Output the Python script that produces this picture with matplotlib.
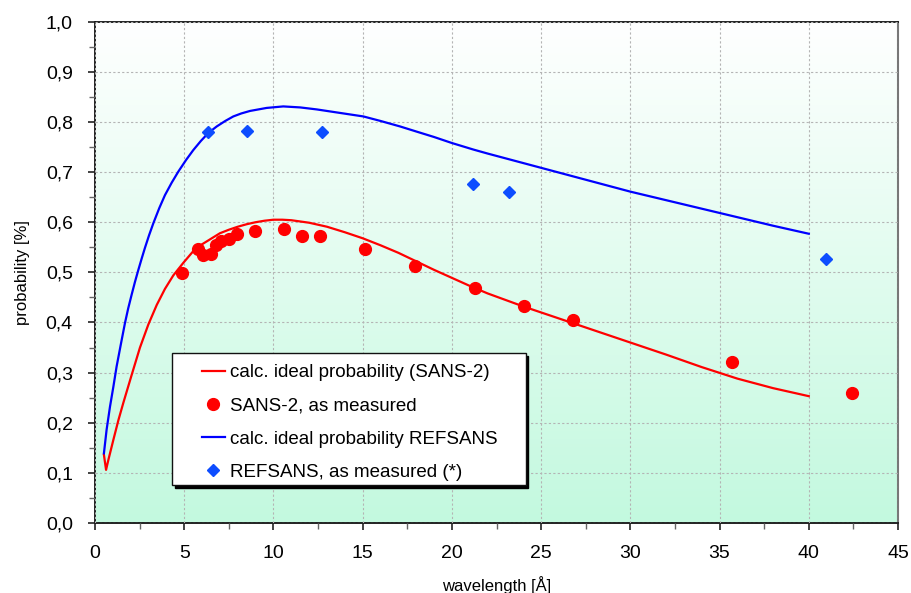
import numpy as np
import matplotlib
matplotlib.use('Agg')
from matplotlib import pyplot as plt
from matplotlib.colors import LinearSegmentedColormap
from matplotlib.patches import Rectangle
from matplotlib.ticker import MultipleLocator

plt.rcParams['font.family'] = ['Liberation Sans', 'DejaVu Sans']

# calculated curves
sans_calc_x = [0.5, 0.62, 0.75, 1.03, 1.31, 1.59, 2.06, 2.52, 2.99, 3.46, 3.92, 4.39, 4.95,
               5.5, 6.0, 6.5, 7.0, 7.5, 8.0, 8.5, 9.0, 9.5, 10.0, 10.5, 11.0, 12.0, 13.0,
               14.0, 15.0, 16.0, 17.0, 18.0, 19.0, 20.0, 21.0, 22.0, 24.0, 26.0, 28.0,
               30.0, 32.0, 34.0, 36.0, 38.0, 40.0]
sans_calc_y = [0.136, 0.106, 0.126, 0.166, 0.205, 0.240, 0.296, 0.350, 0.396, 0.435, 0.467,
               0.494, 0.519, 0.542, 0.556, 0.567, 0.578, 0.585, 0.591, 0.596, 0.600, 0.603,
               0.605, 0.605, 0.604, 0.599, 0.591, 0.580, 0.568, 0.554, 0.539, 0.522, 0.505,
               0.489, 0.473, 0.458, 0.432, 0.408, 0.384, 0.360, 0.336, 0.311, 0.288, 0.269,
               0.253]

refsans_calc_x = [0.5, 0.65, 0.84, 1.03, 1.21, 1.44, 1.68, 1.86, 2.05, 2.24, 2.43, 2.62,
                  2.80, 3.03, 3.27, 3.6, 3.92, 4.3, 4.67, 5.1, 5.51, 5.93, 6.35, 6.82, 7.3,
                  7.75, 8.2, 8.69, 9.62, 10.55, 11.5, 12.43, 13.36, 15.04, 16.0, 17.1, 18.0,
                  19.0, 20.0, 21.2, 22.0, 24.0, 26.0, 28.0, 30.0, 32.0, 34.0, 36.0, 38.0,
                  40.0]
refsans_calc_y = [0.139, 0.186, 0.232, 0.272, 0.312, 0.355, 0.399, 0.428, 0.455, 0.481,
                  0.505, 0.528, 0.549, 0.574, 0.598, 0.628, 0.654, 0.679, 0.701, 0.724,
                  0.744, 0.762, 0.778, 0.791, 0.802, 0.811, 0.817, 0.822, 0.828, 0.831,
                  0.829, 0.825, 0.820, 0.811, 0.802, 0.791, 0.781, 0.770, 0.758, 0.745,
                  0.737, 0.718, 0.699, 0.680, 0.661, 0.644, 0.627, 0.610, 0.593, 0.577]

# measured points
sans_meas_x = [4.89, 5.79, 6.04, 6.48, 6.78, 7.04, 7.51, 7.98, 8.97, 10.61, 11.59, 12.63,
               15.13, 17.94, 21.3, 24.05, 26.81, 35.7, 42.45]
sans_meas_y = [0.498, 0.546, 0.535, 0.537, 0.555, 0.563, 0.566, 0.577, 0.583, 0.587, 0.573,
               0.573, 0.547, 0.513, 0.468, 0.432, 0.405, 0.321, 0.259]

refsans_meas_x = [6.35, 8.50, 12.74, 21.21, 23.2, 40.99]
refsans_meas_y = [0.780, 0.782, 0.779, 0.677, 0.661, 0.526]

x_ticks = [0, 5, 10, 15, 20, 25, 30, 35, 40, 45]
y_ticks = [0.0, 0.1, 0.2, 0.3, 0.4, 0.5, 0.6, 0.7, 0.8, 0.9, 1.0]
y_tick_labels = ['0,0', '0,1', '0,2', '0,3', '0,4', '0,5', '0,6', '0,7', '0,8', '0,9', '1,0']

fig = plt.figure(figsize=(9.11, 5.93), dpi=100)
ax = fig.add_axes([95 / 911, 70 / 593, 803 / 911, 501.3 / 593])

# gradient background: white on top, pale green at the bottom
cmap = LinearSegmentedColormap.from_list('bg', ['#c3f9df', '#ffffff'])
grad = np.linspace(0, 1, 256).reshape(-1, 1)
ax.imshow(grad, extent=[0, 45, 0, 1], origin='lower', aspect='auto', cmap=cmap, zorder=0)

ax.plot(sans_calc_x, sans_calc_y, color='#ff0000', lw=1.6, zorder=3,
        label='calc. ideal probability (SANS-2)')
ax.plot(sans_meas_x, sans_meas_y, 'o', color='#ff0000', ms=8.5, ls='none', zorder=4,
        label='SANS-2, as measured')
ax.plot(refsans_calc_x, refsans_calc_y, color='#0000ff', lw=1.6, zorder=3,
        label='calc. ideal probability REFSANS')
ax.plot(refsans_meas_x, refsans_meas_y, 'D', color='#0d4dff', ms=6, ls='none', zorder=4,
        label='REFSANS, as measured (*)')

ax.set_xlim(0, 45)
ax.set_ylim(0, 1.0)
ax.set_xticks(x_ticks)
ax.set_yticks(y_ticks)
ax.set_yticklabels(y_tick_labels)
ax.xaxis.set_minor_locator(MultipleLocator(2.5))
ax.yaxis.set_minor_locator(MultipleLocator(0.05))
ax.tick_params(which='both', direction='out', labelsize=14, color='#222222')
ax.tick_params(which='major', length=5, width=1.2)
ax.tick_params(which='minor', length=4, width=1.0, color='#666666')
ax.tick_params(axis='x', pad=11)
ax.tick_params(axis='y', pad=11)

ax.grid(True, which='major', color='#b4b4b4', lw=0.8, ls=(0, (2, 2)), zorder=1)
ax.set_axisbelow(False)
for s in ['left', 'bottom', 'top']:
    ax.spines[s].set_color('#111111')
    ax.spines[s].set_linewidth(1.3)
ax.spines['right'].set_color('#777777')
ax.spines['right'].set_linewidth(1.5)

ax.set_xlabel('wavelength [Å]', fontsize=12, labelpad=10)
ax.set_ylabel('probability [%]', fontsize=12, labelpad=11)

# legend frame with a hard black shadow, drawn by hand
box_x0, box_y0, box_w, box_h = 0.0959, 0.0758, 0.4405, 0.2632
dx, dy = 2.5 / 803, 2.5 / 501.3
ax.add_patch(Rectangle((box_x0 + dx, box_y0 - dy), box_w, box_h, transform=ax.transAxes,
                       facecolor='black', edgecolor='black', zorder=5, clip_on=False))
ax.add_patch(Rectangle((box_x0, box_y0), box_w, box_h, transform=ax.transAxes,
                       facecolor='white', edgecolor='#111111', lw=1.0, zorder=5.1,
                       clip_on=False))

leg = ax.legend(loc='upper left', bbox_to_anchor=(0.1329, 0.317), borderaxespad=0,
                borderpad=0, fontsize=13.5, frameon=False, labelspacing=0.86,
                handlelength=1.25, handletextpad=0.28)
leg.set_zorder(6)

fig.savefig('out.png', dpi=100)
